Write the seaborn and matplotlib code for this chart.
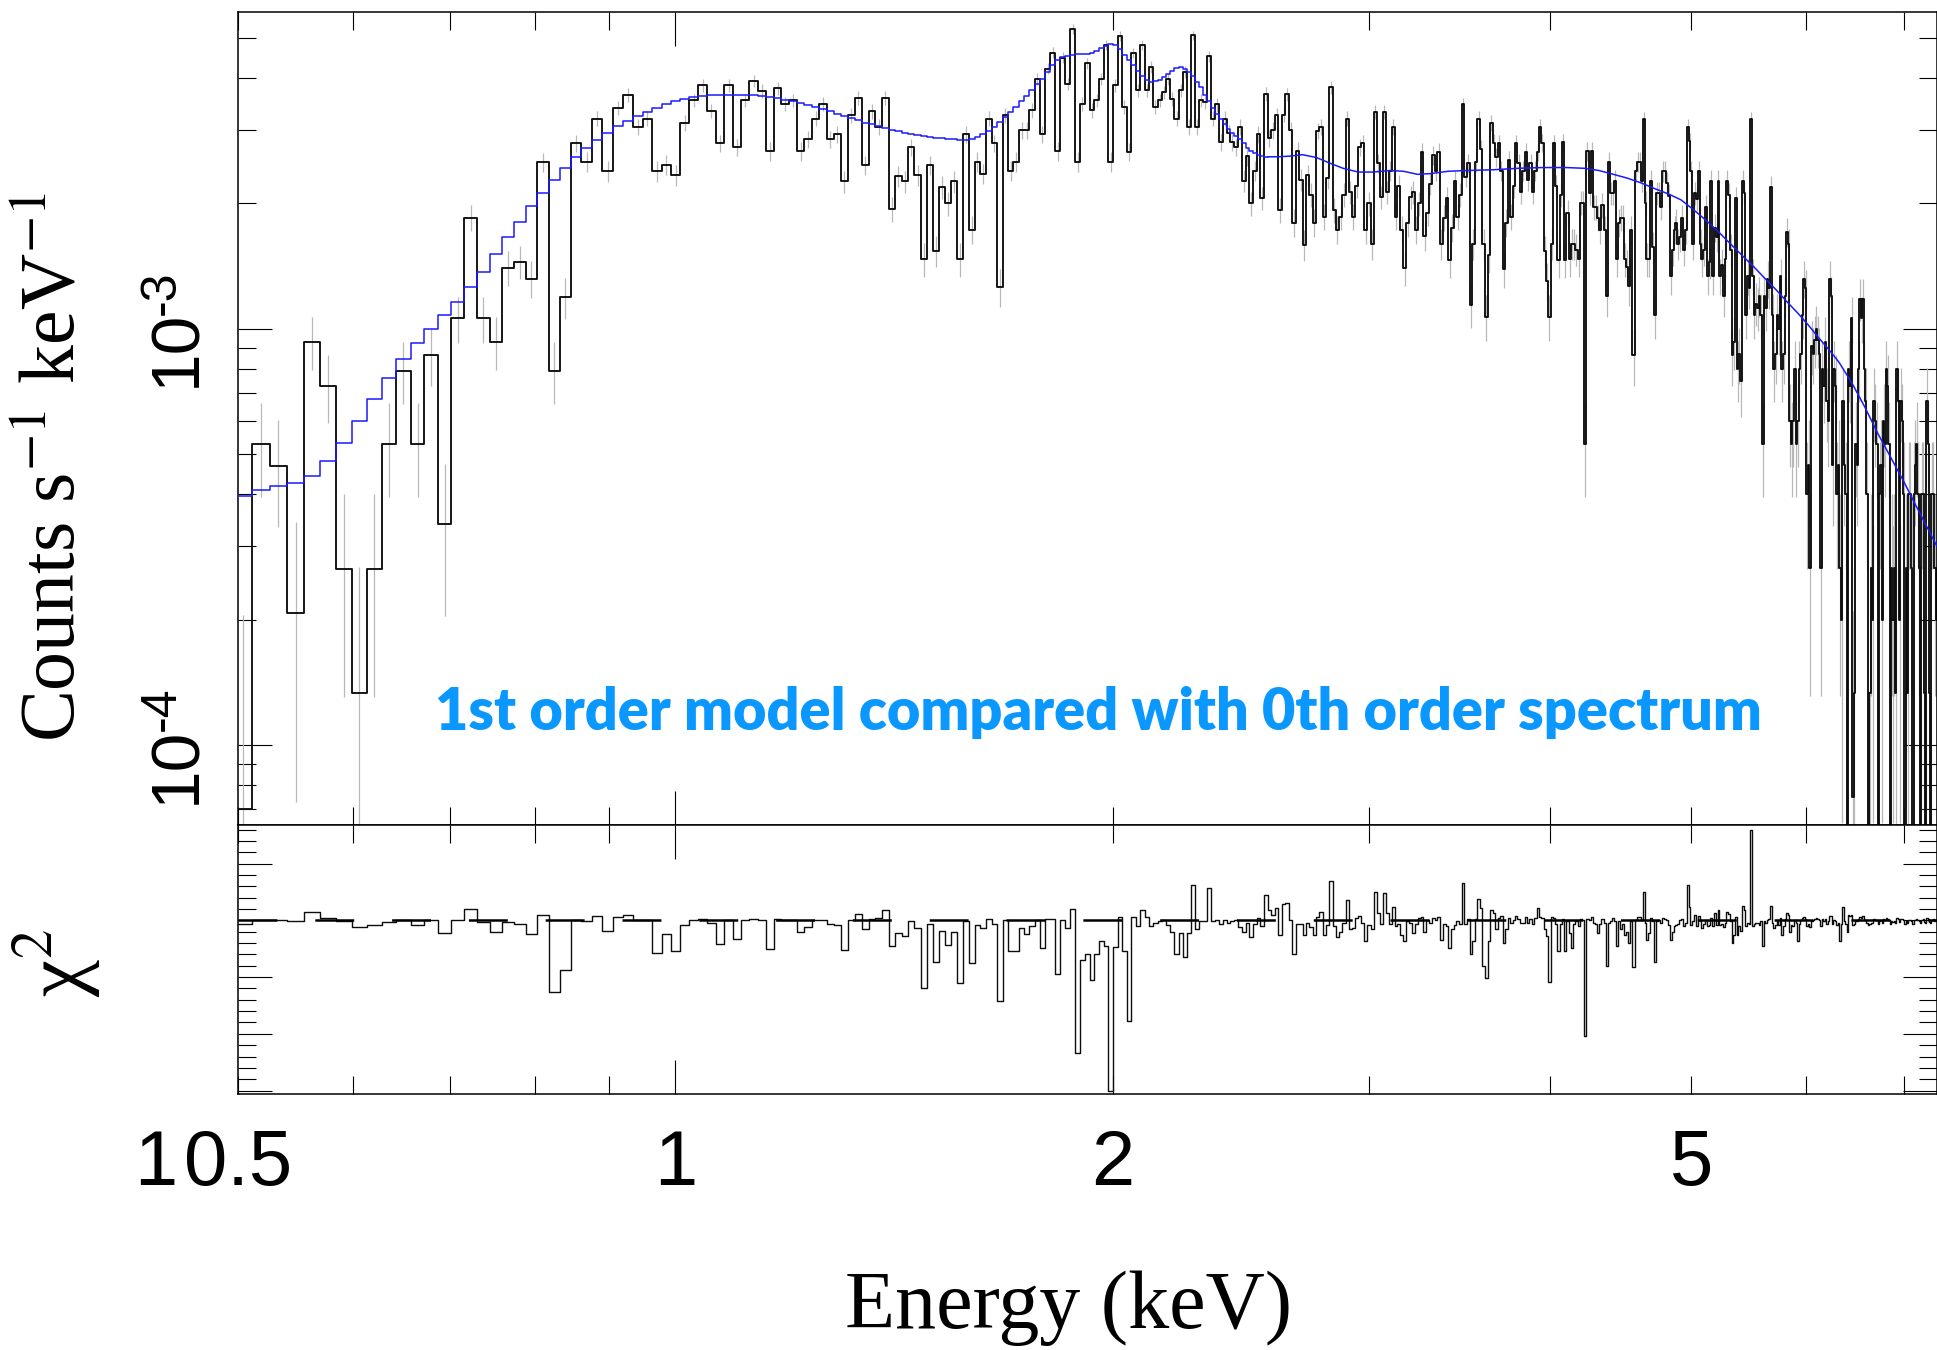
import numpy as np
import matplotlib
matplotlib.use("Agg")
import matplotlib.pyplot as plt
import matplotlib.transforms as mtransforms
from matplotlib.ticker import FixedLocator, NullFormatter, MultipleLocator, LogLocator
import seaborn as sns

# ------------------------------------------------------------------ data
# channel grid of the spectrum (keV)
CHAN_START_KEV = 0.4966
CHAN_WIDTH_KEV = 0.0146

# 0th order spectrum, counts s^-1 keV^-1 in units of 1e-3, one value per channel
RATE = [
    0.070, 0.529, 0.468, 0.208, 0.930, 0.730, 0.265, 0.133, 0.265, 0.529,
    0.793, 0.529, 0.864, 0.339, 1.06, 1.85, 1.06, 0.930, 1.40, 1.45,
    1.32, 2.51, 0.793, 1.19, 2.79, 2.52, 3.20, 2.39, 3.40, 3.65,
    3.06, 3.20, 2.39, 2.48, 2.34, 3.13, 3.54, 3.85, 3.34, 2.79,
    3.85, 2.73, 3.54, 3.94, 3.73, 2.67, 3.79, 3.47, 3.54, 2.67,
    2.86, 3.20, 3.47, 2.86, 2.93, 2.26, 3.26, 3.59, 2.47, 3.33,
    3.06, 3.59, 1.94, 2.33, 2.26, 2.73, 2.34, 1.47, 2.47, 1.54,
    2.19, 2.00, 2.26, 1.47, 2.93, 1.73, 2.52, 2.36, 3.20, 2.79,
    1.26, 3.26, 2.40, 2.52, 3.00, 3.00, 3.35, 3.99, 2.93, 4.22,
    4.61, 2.67, 4.48, 3.88, 5.25, 2.52, 3.47, 4.34, 3.35, 3.54,
    3.99, 4.82, 2.52, 3.85, 5.06, 3.41, 2.66, 4.60, 3.74, 4.80,
    3.74, 4.26, 3.41, 3.54, 3.70, 3.99, 3.57, 3.20, 3.74, 4.14,
    3.06, 5.07, 3.06, 3.54, 3.51, 4.52, 3.20, 3.46, 2.81, 3.20,
    2.95, 2.81, 2.73, 3.06, 2.27, 2.60, 2.00, 2.40, 2.93, 2.06,
    3.67, 2.87, 3.00, 3.26, 1.93, 3.27, 3.66, 3.00, 1.80, 2.68,
    2.28, 1.59, 2.34, 2.10, 1.80, 2.99, 3.05, 1.86, 2.30, 3.81,
    1.93, 1.73, 1.86, 2.10, 3.20, 2.13, 1.86, 2.20, 2.73, 2.79,
    1.73, 2.00, 1.60, 3.32, 2.50, 2.07, 3.32, 2.13, 2.40, 3.05,
    1.86, 2.20, 1.73, 1.40, 1.80, 2.07, 2.13, 1.73, 2.00, 2.66,
    1.67, 1.90, 2.23, 2.61, 2.40, 2.66, 1.60, 1.85, 2.06, 1.46,
    1.75, 2.26, 1.86, 2.10, 3.46, 2.32, 2.50, 1.14, 1.60, 2.52,
    3.20, 2.70, 1.60, 1.07, 1.50, 3.13, 2.80, 2.58, 2.79, 2.40,
    1.39, 1.80, 2.54, 1.86, 2.20, 2.79, 2.50, 2.13, 2.40, 2.66,
    2.28, 2.50, 2.13, 2.40, 2.66, 3.05, 2.80, 1.54, 1.30, 1.07,
    1.60, 2.79, 2.20, 1.46, 2.10, 2.81, 1.46, 1.90, 1.47, 1.60,
    1.60, 1.55, 1.47, 2.01, 2.01, 0.53, 2.67, 2.12, 2.67, 1.96,
    1.96, 1.85, 1.73, 1.98, 1.73, 1.20, 2.52, 2.12, 2.12, 2.27,
    1.47, 1.80, 1.85, 1.85, 1.47, 1.41, 1.27, 1.73, 0.865, 2.39,
    2.52, 2.52, 2.27, 3.19, 2.01, 1.47, 1.47, 2.27, 1.57, 1.08,
    2.12, 2.12, 1.96, 2.39, 2.39, 2.24, 2.09, 1.34, 1.55, 1.73,
    1.80, 1.60, 1.66, 1.85, 1.55, 1.73, 3.06, 2.82, 2.40, 1.60,
    2.12, 2.05, 2.39, 1.60, 1.47, 1.55, 1.96, 1.34, 1.45, 2.27,
    1.34, 1.75, 1.66, 2.27, 1.34, 1.42, 1.20, 1.47, 2.27, 2.10,
    1.55, 0.865, 0.93, 2.06, 0.80, 0.87, 0.75, 2.27, 2.12, 1.08,
    1.34, 1.25, 3.19, 1.34, 1.08, 1.15, 1.12, 1.20, 1.08, 0.53,
    1.20, 1.12, 1.32, 1.25, 2.19, 1.08, 0.80, 0.87, 1.08, 1.00,
    1.34, 0.80, 0.87, 1.20, 1.71, 1.60, 0.60, 0.53, 0.60, 0.80,
    0.53, 0.60, 0.80, 0.87, 1.08, 1.32, 1.25, 0.40, 0.47, 0.266,
    0.91, 0.87, 0.94, 1.00, 0.94, 0.87, 0.266, 0.80, 0.73, 0.93,
    0.67, 0.60, 1.32, 1.20, 0.47, 0.80, 0.73, 0.40, 0.47, 0.266,
    0.20, 0.67, 0.47, 0.40, 0.0, 0.80, 0.73, 1.06, 0.075, 0.133,
    0.53, 0.47, 0.80, 1.18, 1.06, 1.18, 0.80, 0.67, 0.40, 0.0,
    0.133, 0.266, 0.20, 0.67, 0.60, 0.53, 0.0, 0.40, 0.47, 0.20,
    0.60, 0.53, 0.80, 0.73, 0.53, 0.0, 0.266, 0.20, 0.266, 0.133,
    0.80, 0.67, 0.20, 0.67, 0.60, 0.40, 0.0, 0.266, 0.133, 0.40,
    0.40, 0.266, 0.0, 0.40, 0.47, 0.53, 0.40, 0.266, 0.0, 0.40,
    0.40, 0.133, 0.0, 0.67, 0.53, 0.133, 0.0, 0.40, 0.40, 0.266,
    0.266, 0.20,
]
RATE_ERR = 0.135  # 1-sigma half length of the grey error bars, same units

# 1st order model folded on the same channels (first channels, drawn as steps)
MODEL_STEP = [
    0.396, 0.409, 0.420, 0.427, 0.444, 0.480, 0.532, 0.601, 0.679, 0.763,
    0.844, 0.922, 1.00, 1.08, 1.16, 1.26, 1.37, 1.51, 1.66, 1.81,
    1.97, 2.12, 2.28, 2.43, 2.59, 2.72, 2.84, 2.96, 3.07, 3.16,
    3.25, 3.32, 3.40, 3.46, 3.53, 3.57, 3.61, 3.63, 3.64, 3.65,
    3.65, 3.65, 3.65, 3.64, 3.62, 3.60, 3.58, 3.55, 3.52, 3.48,
    3.45, 3.41, 3.37, 3.33, 3.29, 3.25, 3.21, 3.17, 3.13, 3.10,
    3.07, 3.04, 3.01, 2.98, 2.96, 2.94, 2.92, 2.91, 2.89, 2.88,
    2.87, 2.86, 2.85, 2.84, 2.84, 2.86, 2.89, 2.93, 2.99, 3.06,
    3.14, 3.23, 3.32, 3.42, 3.52, 3.63, 3.75, 3.87, 3.99, 4.15,
    4.30, 4.42, 4.50, 4.53, 4.56, 4.57, 4.57, 4.58, 4.61, 4.66,
    4.72, 4.78, 4.83, 4.80, 4.70, 4.55, 4.42, 4.31, 4.17, 4.05,
    3.96, 3.92, 3.93, 3.97, 4.03, 4.10, 4.17, 4.23, 4.25, 4.22,
    4.15, 4.05, 3.92, 3.80, 3.65, 3.52, 3.40, 3.29, 3.19, 3.10,
    3.02, 2.96, 2.91, 2.86, 2.79, 2.72, 2.68, 2.65, 2.62, 2.60,
    2.59,
]
# model at higher energy (fine channels, seen as a smooth curve)
MODEL_E = [2.555, 2.60, 2.65, 2.70, 2.76, 2.82, 2.88, 2.95, 3.02, 3.10,
           3.17, 3.24, 3.31, 3.40, 3.50, 3.65, 3.80, 3.95, 4.10, 4.22,
           4.32, 4.42, 4.52, 4.62, 4.72, 4.82, 4.92, 5.02, 5.12, 5.22,
           5.32, 5.42, 5.52, 5.62, 5.72, 5.82, 5.92, 6.02, 6.12, 6.22,
           6.32, 6.45, 6.58, 6.72, 6.86, 7.00, 7.14, 7.26, 7.38]
MODEL_V = [2.59, 2.59, 2.60, 2.62, 2.58, 2.50, 2.43, 2.38, 2.38, 2.40,
           2.39, 2.35, 2.36, 2.39, 2.40, 2.41, 2.43, 2.44, 2.44, 2.43,
           2.40, 2.35, 2.30, 2.24, 2.17, 2.11, 2.04, 1.93, 1.82, 1.71,
           1.60, 1.50, 1.41, 1.32, 1.24, 1.16, 1.09, 1.02, 0.95, 0.89,
           0.83, 0.74, 0.65, 0.56, 0.49, 0.43, 0.375, 0.335, 0.30]

# signed chi^2 contribution per channel
CHI2 = [
    -0.3, 0.0, 0.0, -0.1, 0.7, 0.2, -0.1, -0.6, -0.45, -0.15,
    0.05, -0.4, 0.05, -1.1, 0.0, 1.0, -0.15, -1.0, -0.15, -0.3,
    -1.2, 0.45, -6.3, -4.4, 0.05, -0.1, 0.35, -0.9, 0.3, 0.45,
    0.0, 0.0, -2.9, -1.2, -2.7, -0.4, 0.0, 0.15, -0.25, -2.1,
    0.05, -1.65, 0.0, 0.15, 0.0, -2.5, 0.1, 0.0, 0.0, -1.0,
    -0.6, 0.0, 0.0, -0.3, -0.4, -2.65, 0.0, 0.55, -0.8, 0.1,
    0.2, 0.95, -2.25, -1.1, -1.4, -0.1, -0.7, -6.0, -0.3, -3.7,
    -0.9, -2.2, -1.0, -5.5, -0.1, -3.8, -0.4, -0.7, 0.1, -0.3,
    -7.1, 0.0, -2.7, -2.7, -0.7, -1.2, -0.5, 0.0, -2.4, 0.1,
    0.1, -4.7, 0.0, -0.7, 1.0, -11.65, -3.5, -3.0, -5.25, -2.95,
    -1.85, -2.3, -15.0, -2.35, 0.3, -2.7, -8.85, 0.3, -0.5, 0.9,
    0.3, -0.5, -0.25, -0.1, 0.0, -0.4, -1.06, -3.0, -1.1, -3.2,
    -1.1, 3.07, -0.8, -0.1, -0.1, 2.86, -0.1, 0.0, -0.3, 0.0,
    -0.2, -0.1, 0.0, -0.6, -1.0, -0.2, -1.5, -0.3, 0.2, -0.5,
    2.2, 0.9, 0.5, 1.1, -1.3, 1.4, 1.5, 0.0, -3.0, -0.3,
    -0.3, -1.3, -0.25, -0.6, -1.3, 0.3, 0.7, -1.3, -0.4, 3.5,
    -0.5, -1.5, -1.0, -0.2, 1.8, -0.8, -0.7, 0.2, 0.4, -0.2,
    -1.85, -0.4, -0.8, 2.5, 0.65, -0.3, 2.4, 0.65, -0.3, 1.2,
    -0.5, -0.3, -1.3, -1.85, -0.1, -0.2, -1.1, -0.3, 0.2, 0.3,
    -1.06, 0.0, -0.25, 0.2, 0.0, 0.3, -1.7, -0.3, -0.5, -2.4,
    -0.75, -0.4, -0.1, -0.3, 3.3, -0.3, 0.1, -2.95, -1.8, 0.1,
    1.9, 1.1, -4.0, -5.1, -1.85, 0.95, 0.65, -0.8, 0.2, 0.35,
    -2.0, -0.8, 0.2, -0.2, 0.05, 0.35, 0.1, -0.25, -0.2, 0.3,
    -0.2, 0.1, -0.3, 0.2, 1.1, 0.3, 0.2, -0.8, -1.4, -5.4,
    0.3, 0.2, -0.3, -2.7, -0.3, 0.1, -2.7, -0.1, -1.1, -2.4,
    -0.3, -0.1, -0.5, 0.1, 0.0, -10.2, 0.1, 0.0, 0.3, -0.2,
    -0.3, -1.1, -0.3, 0.1, -0.2, -4.0, -0.25, -0.1, 0.2, -0.1,
    -2.3, -0.1, -0.8, -0.3, -1.3, -1.0, -2.0, -0.1, -4.1, 0.05,
    0.3, 0.3, 0.05, 2.5, -0.25, -1.7, -1.1, 0.2, -0.1, -3.7,
    -0.1, 0.05, -0.25, 0.2, 0.1, 0.0, -0.4, -1.7, -1.0, -0.5,
    -0.4, -0.3, 0.05, 0.1, -0.5, -0.2, 3.07, 1.2, -0.4, -0.1,
    0.5, -0.5, 0.4, -0.1, -0.7, -0.3, 0.05, -0.5, -0.4, 0.2,
    -0.5, 0.65, -0.4, 0.95, -0.4, -0.3, -0.6, -0.2, 0.7, 0.6,
    -0.1, -2.0, -1.3, 0.3, -1.3, -0.5, -0.9, 1.3, 0.9, -0.5,
    -0.2, -0.3, 8.0, -0.5, -0.3, -0.25, -0.2, -0.4, -0.1, -2.25,
    -0.1, -0.2, 0.05, 0.1, 1.3, -0.25, -0.7, -0.4, 0.05, -0.4,
    0.2, -1.3, -0.5, 0.1, 0.65, 0.5, -1.0, -0.4, -0.5, 0.05,
    -0.25, -1.85, -0.3, 0.05, 0.2, 0.3, 0.15, -0.5, -0.3, -0.6,
    -0.1, 0.05, 0.1, 0.2, 0.1, 0.05, -0.5, 0.1, -0.1, 0.1,
    -0.3, -0.1, 0.35, 0.4, -0.3, 0.05, -0.1, -0.4, -0.2, -1.85,
    -0.3, 1.2, -0.1, -0.3, -1.0, 0.5, 0.35, 0.5, -0.4, -0.3,
    -0.1, -0.1, 0.1, 0.3, 0.25, 0.35, 0.05, 0.05, -0.2, -0.4,
    -0.3, -0.2, -0.25, 0.1, 0.05, 0.05, -0.3, -0.05, 0.05, -0.2,
    0.1, 0.05, 0.2, 0.15, 0.05, -0.3, -0.1, -0.15, -0.05, -0.2,
    0.2, 0.15, -0.15, 0.15, 0.1, 0.0, -0.3, -0.1, -0.2, 0.0,
    0.0, -0.1, -0.3, 0.0, 0.05, 0.15, 0.05, -0.05, -0.25, 0.05,
    0.1, -0.15, -0.25, 0.25, 0.15, -0.15, -0.2, 0.05, 0.1, -0.05,
    0.0, -0.1,
]

X_TICKS = [0.5, 1, 2, 5]
X_TICK_LABELS = ["0.5", "1", "2", "5"]
Y_TICKS = [1e-4, 1e-3]
Y_TICK_EXP = ["-4", "-3"]
ANNOTATION = "1st order model compared with 0th order spectrum"

# ------------------------------------------------------------------ style
sns.set_theme(style="ticks")
plt.rcParams["font.family"] = ["Liberation Sans", "DejaVu Sans"]
plt.rcParams["mathtext.fontset"] = "stix"
plt.rcParams["lines.scale_dashes"] = False
plt.rcParams["axes.linewidth"] = 1.1
plt.rcParams["axes.edgecolor"] = "black"
plt.rcParams["text.color"] = "black"

W, H = 1937, 1350
fig = plt.figure(figsize=(W / 100, H / 100), dpi=100)
fig.patch.set_facecolor("white")


def fx(px):
    return px / W


def fy(py):
    return 1.0 - py / H


X0, X1 = 238, 1937
Y_TOP, Y_MID, Y_BOT = 12, 825, 1094
ax = fig.add_axes([fx(X0), fy(Y_MID), fx(X1) - fx(X0), fy(Y_TOP) - fy(Y_MID)])
axr = fig.add_axes([fx(X0), fy(Y_BOT), fx(X1) - fx(X0), fy(Y_MID) - fy(Y_BOT)])
for a in (ax, axr):
    a.set_facecolor("white")

# ------------------------------------------------------------------ arrays
rate = np.array(RATE) * 1e-3
err = RATE_ERR * 1e-3
edges = CHAN_START_KEV + CHAN_WIDTH_KEV * np.arange(len(rate) + 1)
centers = 0.5 * (edges[:-1] + edges[1:])
floor = 1e-8  # zero-count channels drop off the log axis
rate_plot = np.where(rate > 0, rate, floor)
lo = np.where(rate - err > 0, rate - err, floor)
hi = rate + err

mstep = np.array(MODEL_STEP) * 1e-3
medges = edges[: len(mstep) + 1]
chi2 = np.array(CHI2)
redges = CHAN_START_KEV + CHAN_WIDTH_KEV * np.arange(len(chi2) + 1)

# ------------------------------------------------------------------ main panel
ax.vlines(centers, lo, hi, color="#b8b8b8", lw=0.9, zorder=1)
sns.lineplot(x=edges, y=np.append(rate_plot, rate_plot[-1]), ax=ax,
             drawstyle="steps-post", color="#0d0d0d", lw=1.35,
             estimator=None, sort=False, errorbar=None, zorder=2)
sns.lineplot(x=medges, y=np.append(mstep, mstep[-1]), ax=ax,
             drawstyle="steps-post", color="#1a1aff", lw=1.1,
             estimator=None, sort=False, errorbar=None, zorder=3)
sns.lineplot(x=MODEL_E, y=np.array(MODEL_V) * 1e-3, ax=ax,
             color="#1a1aff", lw=1.1, estimator=None, sort=False,
             errorbar=None, zorder=3)

# ------------------------------------------------------------------ residual panel
sns.lineplot(x=redges, y=np.append(chi2, chi2[-1]), ax=axr,
             drawstyle="steps-post", color="#0d0d0d", lw=1.0,
             estimator=None, sort=False, errorbar=None, zorder=2)
axr.axhline(0.0, color="black", lw=1.8, dashes=(28, 27.3), zorder=3)

# ------------------------------------------------------------------ axes setup
ax.set_yscale("log")
ax.set_ylim(6.42e-5, 5.77e-3)
ax.yaxis.set_major_locator(FixedLocator(Y_TICKS))
ax.yaxis.set_minor_locator(LogLocator(base=10, subs=np.arange(2, 10)))

axr.set_ylim(-15.3, 8.4)
axr.yaxis.set_major_locator(MultipleLocator(5))
axr.yaxis.set_minor_locator(MultipleLocator(1))

for a in (ax, axr):
    a.set_xscale("log")
    a.set_xlim(0.5, 7.38)
    a.xaxis.set_major_locator(FixedLocator([1.0]))
    a.xaxis.set_minor_locator(FixedLocator([0.5, 0.6, 0.7, 0.8, 0.9, 2, 3, 4, 5, 6, 7]))
    a.xaxis.set_major_formatter(NullFormatter())
    a.xaxis.set_minor_formatter(NullFormatter())
    a.yaxis.set_major_formatter(NullFormatter())
    a.yaxis.set_minor_formatter(NullFormatter())
    a.tick_params(which="both", direction="in", top=True, right=True,
                  bottom=True, left=True, color="black", width=0.8,
                  labelbottom=False, labelleft=False)
    a.tick_params(which="major", length=24.5)
    a.tick_params(which="minor", length=13)
    a.set_xlabel("")
    a.set_ylabel("")
    for s in a.spines.values():
        s.set_color("black")
        s.set_linewidth(1.1)

# ------------------------------------------------------------------ texts
SANS = ["Liberation Sans", "DejaVu Sans"]
SERIF = ["Liberation Serif", "DejaVu Serif"]

# x tick labels
tx = mtransforms.blended_transform_factory(axr.transData, fig.transFigure)
for v, lab in zip(X_TICKS, X_TICK_LABELS):
    fig.text(v, fy(1185), lab, transform=tx, ha="center", va="baseline",
             fontsize=56, family=SANS, color="black")
fig.text(fx(177), fy(1185), "1", ha="right", va="baseline", fontsize=56,
         family=SANS, color="black")

# y tick labels of the main panel (10 with superscript exponent)
ty = mtransforms.blended_transform_factory(fig.transFigure, ax.transData)
for v, ex in zip(Y_TICKS, Y_TICK_EXP):
    t10 = mtransforms.offset_copy(ty, fig=fig, x=0, y=-20, units="dots")
    fig.text(fx(177), v, "10", transform=t10, rotation=90, ha="center",
             va="center", fontsize=50, family=SANS, color="black")
    tex = mtransforms.offset_copy(ty, fig=fig, x=0, y=36, units="dots")
    fig.text(fx(162), v, ex, transform=tex, rotation=90, ha="center",
             va="center", fontsize=36, family=SANS, color="black")

# axis titles
fig.text(fx(1069), fy(1328), "Energy (keV)", ha="center", va="baseline",
         fontsize=59, family=SERIF, color="black")
fig.text(fx(56), fy(467), r"Counts s$^{-1}$ keV$^{-1}$", rotation=90,
         ha="center", va="center", fontsize=56, family=SERIF, color="black")
fig.text(fx(58), fy(963), r"χ$^{2}$", rotation=90, ha="center", va="center",
         fontsize=60, family=SERIF, color="black")

# annotation, sized to span the same width as in the figure
ann = fig.text(fx(435), fy(730), ANNOTATION, ha="left", va="baseline",
               fontsize=40, weight="heavy", color="#0a98ff",
               family=["Lato", "DejaVu Sans"])
fig.canvas.draw()
bb = ann.get_window_extent(renderer=fig.canvas.get_renderer())
ann.set_fontsize(40 * 1327.0 / bb.width)

fig.savefig("out.png", dpi=100, facecolor="white")
